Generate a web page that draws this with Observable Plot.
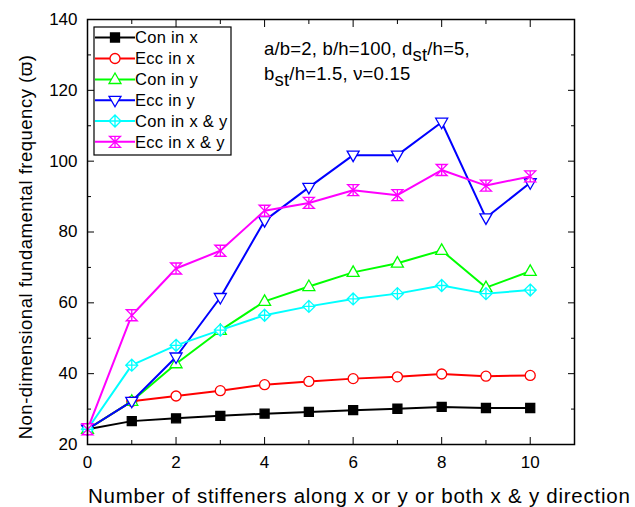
<!DOCTYPE html>
<html><head><meta charset="utf-8">
<script src="https://cdn.jsdelivr.net/npm/d3@7"></script>
<script src="https://cdn.jsdelivr.net/npm/@observablehq/plot@0.6"></script>
<style>body{margin:0;background:#fff} #chart{width:635px;height:507px}</style>
</head><body><div id="chart"></div>
<script>
const stiffeners = [0, 1, 2, 3, 4, 5, 6, 7, 8, 9, 10];
const conInX   = [24.3, 26.6, 27.4, 28.1, 28.7, 29.2, 29.7, 30.1, 30.6, 30.3, 30.3];
const eccInX   = [24.3, 32.2, 33.7, 35.2, 36.9, 37.8, 38.6, 39.1, 39.9, 39.3, 39.5];
const conInY   = [24.3, 32.2, 42.8, 52.2, 60.4, 64.6, 68.6, 71.2, 74.8, 64.3, 68.9];
const eccInY   = [24.3, 32.2, 44.7, 61.5, 83.2, 92.6, 101.7, 101.7, 111.0, 84.0, 93.9];
const conInXY  = [24.3, 42.4, 48.0, 52.3, 56.5, 59.0, 61.1, 62.6, 64.9, 62.6, 63.6];
const eccInXY  = [24.3, 56.5, 69.7, 74.7, 86.0, 88.2, 91.8, 90.4, 97.5, 93.1, 95.7];
const seriesNames = ["Con in x", "Ecc in x", "Con in y", "Ecc in y", "Con in x & y", "Ecc in x & y"];
const seriesColors = ["#000000", "#ff0000", "#00ff00", "#0000ff", "#00ffff", "#ff00ff"];
const xMajorTicks = [0, 2, 4, 6, 8, 10];
const xMinorTicks = [1, 3, 5, 7, 9];
const yMajorTicks = [20, 40, 60, 80, 100, 120, 140];
const yMinorTicks = [30, 50, 70, 90, 110, 130];
const xTitle = "Number of stiffeners along x or y or both x & y direction";
const yTitle = "Non-dimensional fundamental frequency (\u03D6)";

const seriesValues = [conInX, eccInX, conInY, eccInY, conInXY, eccInXY];

// custom symbols (fixed pixel geometry)
const symSquare = {draw(c){c.moveTo(-4.5,-4.5);c.lineTo(4.5,-4.5);c.lineTo(4.5,4.5);c.lineTo(-4.5,4.5);c.closePath();}};
const symCircle = {draw(c){c.moveTo(5,0);c.arc(0,0,5,0,2*Math.PI);c.closePath();}};
const symTriUp = {draw(c){c.moveTo(0,-6.5);c.lineTo(6,4);c.lineTo(-6,4);c.closePath();}};
const symTriDown = {draw(c){c.moveTo(0,6.5);c.lineTo(6,-4);c.lineTo(-6,-4);c.closePath();}};
const symDiamondPlus = {draw(c){c.moveTo(0,-6);c.lineTo(6,0);c.lineTo(0,6);c.lineTo(-6,0);c.closePath();c.moveTo(0,-6);c.lineTo(0,6);c.moveTo(-6,0);c.lineTo(6,0);}};
const symHourglass = {draw(c){c.moveTo(-5.5,-5.5);c.lineTo(5.5,-5.5);c.lineTo(-5.5,5.5);c.lineTo(5.5,5.5);c.closePath();c.moveTo(0,-5.5);c.lineTo(0,5.5);}};
const symbols = [symSquare, symCircle, symTriUp, symTriDown, symDiamondPlus, symHourglass];
const fills = ["#000000", "white", "white", "white", "white", "white"];

const font = "'Liberation Sans', Arial, Helvetica, sans-serif";
const blank = () => "";
const marks = [];
seriesValues.forEach((vals, i) => {
  const data = stiffeners.map((s, j) => ({x: s, y: vals[j]}));
  marks.push(Plot.line(data, {x: "x", y: "y", stroke: seriesColors[i], strokeWidth: 2}));
  marks.push(Plot.dot(data, {x: "x", y: "y", symbol: symbols[i], r: 5, fill: fills[i], stroke: seriesColors[i], strokeWidth: 1.3}));
});

const chart = Plot.plot({
  width: 635, height: 507,
  marginLeft: 87, marginRight: 61, marginTop: 19, marginBottom: 63,
  style: {fontFamily: font, background: "white", color: "black"},
  x: {domain: [0, 11], label: null},
  y: {domain: [20, 140], label: null},
  marks: [
    ...marks,
    Plot.axisX(xMajorTicks, {anchor: "bottom", tickSize: 0, tickPadding: 11, fontSize: 17, label: null}),
    Plot.axisX(xMajorTicks, {anchor: "bottom", tickSize: -7, tickFormat: blank, label: null}),
    Plot.axisX(xMinorTicks, {anchor: "bottom", tickSize: -4, tickFormat: blank, label: null}),
    Plot.axisX(xMajorTicks, {anchor: "top", tickSize: -7, tickFormat: blank, label: null}),
    Plot.axisX(xMinorTicks, {anchor: "top", tickSize: -4, tickFormat: blank, label: null}),
    Plot.axisY(yMajorTicks, {anchor: "left", tickSize: 0, tickPadding: 10, fontSize: 17, label: null}),
    Plot.axisY(yMajorTicks, {anchor: "left", tickSize: -7, tickFormat: blank, label: null}),
    Plot.axisY(yMinorTicks, {anchor: "left", tickSize: -4, tickFormat: blank, label: null}),
    Plot.axisY(yMajorTicks, {anchor: "right", tickSize: -7, tickFormat: blank, label: null}),
    Plot.axisY(yMinorTicks, {anchor: "right", tickSize: -4, tickFormat: blank, label: null}),
    Plot.frame({stroke: "black", strokeWidth: 1.5}),
    Plot.text([xTitle], {frameAnchor: "bottom", lineAnchor: "middle", textAnchor: "start", dx: -243, dy: 52, fontSize: 20.5, text: d => d}),
    Plot.text([yTitle], {frameAnchor: "left", rotate: -90, textAnchor: "middle", lineAnchor: "middle", dx: -61, dy: 15, fontSize: 18.5, text: d => d})
  ]
});
document.getElementById("chart").appendChild(chart);

const svg = d3.select(chart);
// widen axis titles to the reference's spacing
svg.selectAll("text").filter(function() { return this.textContent === xTitle; }).attr("letter-spacing", 0.75);
svg.selectAll("text").filter(function() { return this.textContent === yTitle; }).attr("letter-spacing", 0.5);

// legend and annotation drawn into the plot svg
const lg = svg.append("g").attr("font-family", font).attr("font-size", 16.5).attr("letter-spacing", 0.3).attr("text-anchor", "start");
lg.append("rect").attr("x", 94).attr("y", 27).attr("width", 137).attr("height", 128)
  .attr("fill", "white").attr("stroke", "black").attr("stroke-width", 1.2);
const rowY = [37.5, 58.5, 79.5, 100.3, 121, 141.8];
seriesNames.forEach((name, i) => {
  const y = rowY[i];
  lg.append("line").attr("x1", 95).attr("x2", 135).attr("y1", y).attr("y2", y)
    .attr("stroke", seriesColors[i]).attr("stroke-width", 2);
  const p = d3.path(); symbols[i].draw(p);
  lg.append("path").attr("d", p.toString()).attr("transform", `translate(115,${y})`)
    .attr("fill", fills[i]).attr("stroke", seriesColors[i]).attr("stroke-width", 1.3);
  lg.append("text").attr("x", 135).attr("y", y).attr("dy", "0.35em").text(name);
});
const an = svg.append("g").attr("font-family", font).attr("font-size", 18.5).attr("letter-spacing", 0.2).attr("text-anchor", "start");
const t1 = an.append("text").attr("x", 264).attr("y", 55);
t1.append("tspan").text("a/b=2, b/h=100, d");
t1.append("tspan").attr("dy", 6).text("st");
t1.append("tspan").attr("dy", -6).text("/h=5,");
const t2 = an.append("text").attr("x", 264).attr("y", 80);
t2.append("tspan").text("b");
t2.append("tspan").attr("dy", 6).text("st");
t2.append("tspan").attr("dy", -6).text("/h=1.5, \u03BD=0.15");
</script></body></html>
